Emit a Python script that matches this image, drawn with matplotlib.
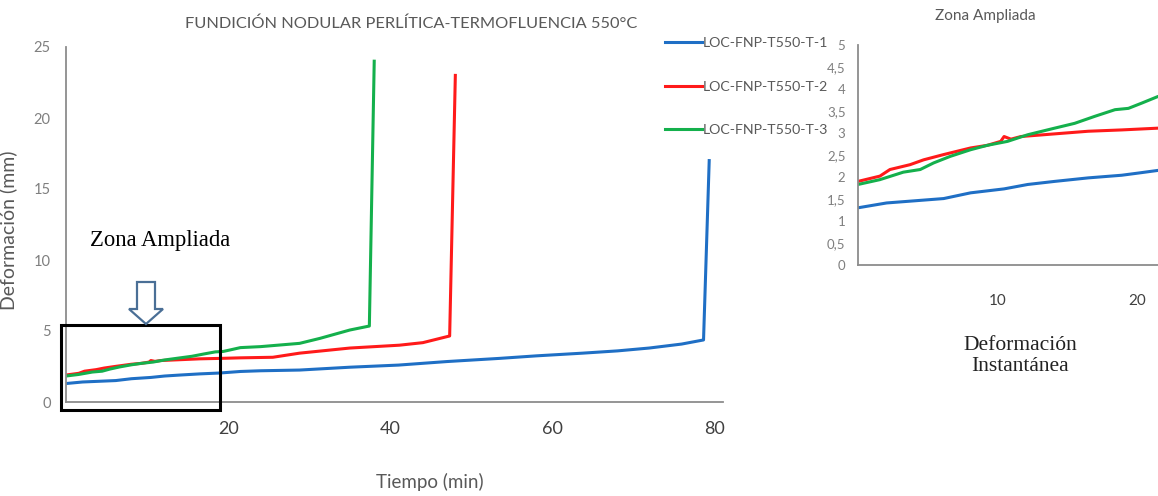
import matplotlib.pyplot as plt
from matplotlib.patches import Rectangle, Polygon
from matplotlib.ticker import FuncFormatter

# Ensayos de termofluencia a 550 C - tiempo (min) y deformacion (mm)
t_1 = [0, 2.05, 4.1, 6.14, 8.07, 10.47, 12.16, 14.09, 16.5, 18.9, 20.1, 21.5,
       24, 28.8, 35, 41, 47, 53.4, 58, 63.7, 68, 71.9, 75.9, 78.6, 79.3]
d_1 = [1.30, 1.41, 1.46, 1.51, 1.64, 1.73, 1.83, 1.90, 1.98, 2.04, 2.09, 2.15,
       2.20, 2.25, 2.45, 2.60, 2.85, 3.07, 3.25, 3.44, 3.60, 3.80, 4.08, 4.37, 17.0]

t_2 = [0, 1.57, 2.29, 3.73, 4.7, 6.14, 8.07, 9.27, 10.23, 10.47, 10.96, 11.68,
       14.09, 16.5, 18.9, 21.5, 25.5, 28.8, 35, 41.1, 44, 47.3, 48]
d_2 = [1.90, 2.02, 2.17, 2.28, 2.39, 2.51, 2.66, 2.72, 2.81, 2.92, 2.86, 2.92,
       2.98, 3.04, 3.07, 3.11, 3.15, 3.44, 3.80, 4.00, 4.18, 4.65, 23.0]

t_3 = [0, 1.57, 3.25, 4.46, 5.42, 6.62, 8.07, 9.27, 10.72, 12.16, 14.09, 15.53,
       16.98, 18.42, 19.38, 20.34, 21.5, 24, 28.8, 31.3, 35, 37.4, 38]
d_3 = [1.83, 1.94, 2.11, 2.17, 2.32, 2.47, 2.62, 2.72, 2.81, 2.96, 3.11, 3.22,
       3.38, 3.53, 3.56, 3.68, 3.83, 3.90, 4.13, 4.48, 5.07, 5.35, 24.0]

series = [
    (t_1, d_1, '#1F6FC5', 'LOC-FNP-T550-T-1'),
    (t_2, d_2, '#FF1A1A', 'LOC-FNP-T550-T-2'),
    (t_3, d_3, '#14B04C', 'LOC-FNP-T550-T-3'),
]

main_xticks = [20, 40, 60, 80]
main_yticks = [0, 5, 10, 15, 20, 25]
zoom_xticks = [10, 20]
zoom_yticks = [0, 0.5, 1, 1.5, 2, 2.5, 3, 3.5, 4, 4.5, 5]

W, H = 1158, 496
plt.rcParams['font.family'] = ['Lato', 'DejaVu Sans']
gris = '#7F7F7F'
gris_osc = '#404040'
serif = ['Liberation Serif', 'DejaVu Serif']

fig = plt.figure(figsize=(W / 100, H / 100), dpi=100)

# Grafico principal
ax = fig.add_axes([66 / W, 1 - 402 / H, 657 / W, 355 / H])
for t, d, c, lab in series:
    ax.plot(t, d, color=c, lw=2.2, label=lab, solid_joinstyle='round')
ax.set_xlim(0, 81)
ax.set_ylim(0, 25)
ax.set_xticks(main_xticks)
ax.set_yticks(main_yticks)
for s in ['top', 'right']:
    ax.spines[s].set_visible(False)
for s in ['left', 'bottom']:
    ax.spines[s].set_color('#8C8C8C')
    ax.spines[s].set_linewidth(1.3)
ax.tick_params(axis='y', length=0, pad=11, labelsize=10.5, labelcolor=gris)
ax.tick_params(axis='x', length=0, pad=14, labelsize=13, labelcolor=gris_osc)
ax.set_title('FUNDICIÓN NODULAR PERLÍTICA-TERMOFLUENCIA 550°C',
             fontsize=11.8, color='#595959', pad=14, x=0.525)
ax.set_xlabel('Tiempo (min)', fontsize=13.5, color='#595959')
ax.xaxis.set_label_coords(0.554, -0.2)
ax.set_ylabel('Deformación (mm)', fontsize=14, color='#595959')
ax.yaxis.set_label_coords(-0.074, 0.485)
ax.legend(loc='upper left', bbox_to_anchor=(0.903, 1.045), frameon=False,
          fontsize=10.2, labelcolor='#595959', handlelength=2.6,
          handletextpad=0.1, labelspacing=2.25, borderaxespad=0)

# Recuadro de la zona ampliada
ax.add_patch(Rectangle((-0.6, -0.56), 19.6, 5.98, fill=False, ec='black',
                       lw=2.2, clip_on=False, zorder=5))
fig.text(90 / W, 1 - 241 / H, 'Zona Ampliada', fontsize=16.3, va='center',
         family=serif, color='black')

# Flecha hueca hacia el recuadro
flecha = [(137, 282), (155, 282), (155, 309), (163, 309), (146, 324),
          (129, 309), (137, 309)]
fig.patches.append(Polygon([(x / W, 1 - y / H) for x, y in flecha],
                           closed=True, fill=False, ec='#4A6F96', lw=1.6,
                           transform=fig.transFigure))

# Grafico de la zona ampliada
az = fig.add_axes([858 / W, 1 - 265 / H, 300 / W, 220 / H])
for t, d, c, lab in series:
    az.plot(t, d, color=c, lw=2.2, solid_joinstyle='round')
az.set_xlim(0, 21.5)
az.set_ylim(0, 5)
az.set_xticks(zoom_xticks)
az.set_yticks(zoom_yticks)
az.yaxis.set_major_formatter(FuncFormatter(
    lambda v, p: ('%g' % v).replace('.', ',')))
for s in ['top', 'right']:
    az.spines[s].set_visible(False)
for s in ['left', 'bottom']:
    az.spines[s].set_color('#8C8C8C')
    az.spines[s].set_linewidth(1.3)
az.tick_params(axis='y', length=0, pad=9, labelsize=9.5, labelcolor=gris)
az.tick_params(axis='x', length=0, pad=21, labelsize=11, labelcolor=gris_osc)
fig.text(985 / W, 1 - 16 / H, 'Zona Ampliada', ha='center', va='center',
         fontsize=11, color='#595959')

fig.text(1020 / W, 1 - 356 / H, 'Deformación\nInstantánea', ha='center',
         va='center', fontsize=15.5, linespacing=1.15,
         family=serif, color='#222222')

fig.savefig('out.png', dpi=100)
